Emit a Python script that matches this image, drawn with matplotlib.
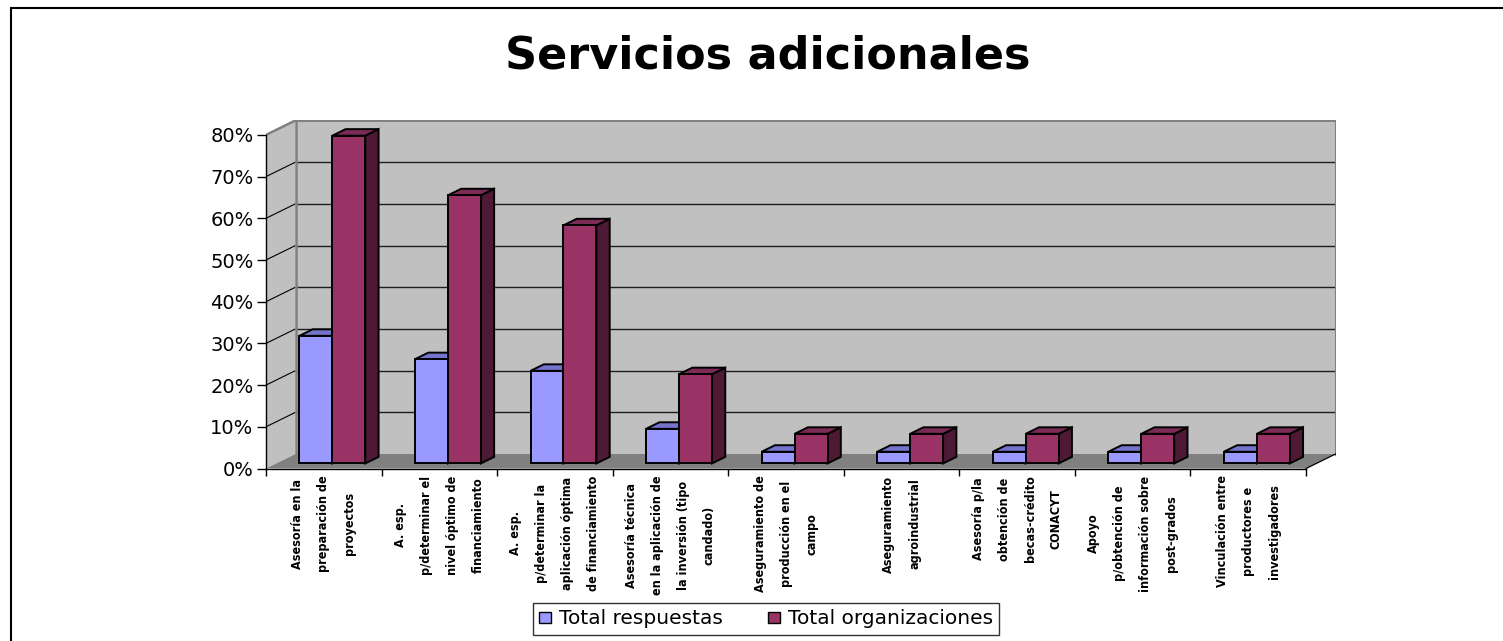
import numpy as np
import matplotlib
matplotlib.use("Agg")
import matplotlib.pyplot as plt
from matplotlib.patches import Polygon, Rectangle, Patch
from matplotlib import font_manager as fm

# ---------------- data ----------------
title = "Servicios adicionales"
categories = [
    "Asesoría en la\npreparación de\nproyectos",
    "A. esp.\np/determinar el\nnivel óptimo de\nfinanciamiento",
    "A. esp.\np/determinar la\naplicación óptima\nde financiamiento",
    "Asesoría técnica\nen la aplicación de\nla inversión (tipo\ncandado)",
    "Aseguramiento de\nproducción en el\ncampo",
    "Aseguramiento\nagroindustrial",
    "Asesoría p/la\nobtención de\nbecas-crédito\nCONACYT",
    "Apoyo\np/obtención de\ninformación sobre\npost-grados",
    "Vinculación entre\nproductores e\ninvestigadores",
]
series_names = ["Total respuestas", "Total organizaciones"]
total_respuestas = [0.306, 0.250, 0.222, 0.083, 0.028, 0.028, 0.028, 0.028, 0.028]
total_organizaciones = [0.786, 0.643, 0.571, 0.214, 0.071, 0.071, 0.071, 0.071, 0.071]
y_ticks = [0.0, 0.1, 0.2, 0.3, 0.4, 0.5, 0.6, 0.7, 0.8]
y_tick_labels = ["0%", "10%", "20%", "30%", "40%", "50%", "60%", "70%", "80%"]

# ---------------- styles ----------------
front_colors = ["#9999FF", "#993366"]
top_colors = ["#7474CC", "#7C2A56"]
side_colors = ["#4C4C80", "#4E1934"]
wall_color = "#C0C0C0"
floor_color = "#808080"

W, H = 1503, 641
fig = plt.figure(figsize=(W / 100, H / 100), dpi=100)

# geometry (pixels)
X0, Y0 = 266.0, 468.5        # front origin
cat_px = 115.56               # pixels per category
val_px = 417.0                # pixels per 1.0 (100%)
Dx = 29.5 / cat_px            # depth offset in data units
Dy = 14.5 / val_px
ncat = len(categories)
ymax_v = y_ticks[-1]
xmax = ncat + Dx
ymax = ymax_v + Dy

ax = fig.add_axes([X0 / W, (H - Y0) / H, xmax * cat_px / W, ymax * val_px / H])
ax.set_xlim(0, xmax)
ax.set_ylim(0, ymax)
ax.patch.set_visible(False)
for s in ["top", "right"]:
    ax.spines[s].set_visible(False)
ax.spines["left"].set_bounds(0, ymax_v)
ax.spines["bottom"].set_bounds(0, ncat)
for s in ["left", "bottom"]:
    ax.spines[s].set_color("black")
    ax.spines[s].set_linewidth(1.0)
    ax.spines[s].set_zorder(6)

# walls & floor
back = Rectangle((Dx, Dy), ncat, ymax_v, facecolor=wall_color, edgecolor="none", zorder=0)
ax.add_patch(back)
side = Polygon([(0, 0), (Dx, Dy), (Dx, ymax_v + Dy), (0, ymax_v)], closed=True,
               facecolor=wall_color, edgecolor="none", zorder=0)
ax.add_patch(side)
floor = Polygon([(0, 0), (ncat, 0), (ncat + Dx, Dy), (Dx, Dy)], closed=True,
                facecolor=floor_color, edgecolor="none", zorder=0.5)
ax.add_patch(floor)

# gridlines on back wall and side wall
for t in y_ticks[1:]:
    ax.plot([Dx, ncat + Dx], [t + Dy, t + Dy], color="#1e1e1e", lw=1.0, zorder=1)
    c = "#808080" if t == y_ticks[-1] else "black"
    lw = 1.8 if t == y_ticks[-1] else 0.8
    ax.plot([0, Dx], [t, t + Dy], color=c, lw=lw, zorder=1, solid_capstyle="butt")
# back wall border edges
ax.plot([Dx, Dx], [Dy, ymax_v + Dy], color="#808080", lw=1.8, zorder=1.2)
ax.plot([ncat + Dx, ncat + Dx], [Dy, ymax_v + Dy], color="#808080", lw=2.2, zorder=1.2)
ax.plot([Dx, ncat + Dx], [ymax_v + Dy, ymax_v + Dy], color="#808080", lw=2.0, zorder=1.2)
# floor right edge
ax.plot([ncat, ncat + Dx], [0, Dy], color="black", lw=0.9, zorder=1.2)

# bars (pseudo 3D)
f1, f2 = 0.35, 0.80
dd = f2 - f1
gap = 0.20
w = 0.285
series = [total_respuestas, total_organizaciones]
xs = np.arange(ncat)
for i in range(ncat):
    for s_idx, vals in enumerate(series):
        v = vals[i]
        x0 = xs[i] + gap + s_idx * w + f1 * Dx
        x1 = x0 + w
        b = f1 * Dy
        top = b + v
        z = 2 + i * 0.1 + s_idx * 0.05
        side_poly = Polygon([(x1, b), (x1, top), (x1 + dd * Dx, top + dd * Dy), (x1 + dd * Dx, b + dd * Dy)],
                            closed=True, facecolor=side_colors[s_idx], edgecolor="black",
                            lw=1.4, joinstyle="miter", zorder=z)
        ax.add_patch(side_poly)
        top_poly = Polygon([(x0, top), (x1, top), (x1 + dd * Dx, top + dd * Dy), (x0 + dd * Dx, top + dd * Dy)],
                           closed=True, facecolor=top_colors[s_idx], edgecolor="black",
                           lw=1.4, joinstyle="miter", zorder=z)
        ax.add_patch(top_poly)
        ax.bar(x0, v, width=w, bottom=b, align="edge", color=front_colors[s_idx],
               edgecolor="black", linewidth=1.4, zorder=z + 0.01)

# y ticks
ax.set_yticks(y_ticks)
ax.set_yticklabels(y_tick_labels)
ax.tick_params(axis="y", length=6.5, width=1, pad=2.5, labelsize=14, colors="black")
for lab in ax.get_yticklabels():
    lab.set_family("DejaVu Sans")

# x ticks: major at boundaries, labels at minor (centres)
ax.set_xticks(np.arange(ncat + 1))
ax.set_xticklabels([""] * (ncat + 1))
ax.tick_params(axis="x", which="major", length=5, width=1, direction="out")


def pick_label_font():
    cands = [
        (dict(family="Liberation Sans Narrow", weight="bold"), 11.0, ("narrow",)),
        (dict(family="DejaVu Sans", weight="bold", stretch="condensed"), 9.0, ("condensed",)),
        (dict(family="Roboto Condensed", weight="bold"), 10.5, ("condensed",)),
        (dict(family="Liberation Sans", weight="bold"), 9.0, ("liberation",)),
    ]
    for props, size, keys in cands:
        fp = fm.FontProperties(**props)
        try:
            path = fm.findfont(fp, fallback_to_default=False)
        except Exception:
            continue
        if any(k in path.lower() for k in keys):
            return props, size
    return dict(family="DejaVu Sans", weight="bold"), 8.0


lprops, lsize = pick_label_font()
size_px = lsize * 100 / 72
ls = (24 - 0.22 * size_px) / (0.74 * size_px)
ax.set_xticks(xs + 0.5, minor=True)
ax.set_xticklabels(categories, minor=True)
ax.tick_params(axis="x", which="minor", length=0, pad=5)
for lab in ax.get_xticklabels(minor=True):
    lab.set_fontproperties(fm.FontProperties(size=lsize, **lprops))
    lab.set_rotation(90)
    lab.set_linespacing(ls)
    lab.set_multialignment("center")
    lab.set_va("top")
    lab.set_ha("center")

# title
fig.text(768 / W, 1 - 56 / H, title, ha="center", va="center", fontsize=32,
         fontweight="bold", family="DejaVu Sans")

# legend
handles = [Patch(facecolor=front_colors[k], edgecolor="black", linewidth=1.0) for k in range(2)]
leg = fig.legend(handles, series_names, loc="center", bbox_to_anchor=(766 / W, 1 - 619 / H),
                 ncol=2, fontsize=14.5, frameon=True, fancybox=False, shadow=False,
                 handlelength=0.6, handleheight=0.5, handletextpad=0.4, columnspacing=2.2,
                 borderpad=0.3, borderaxespad=0)
leg.get_frame().set_edgecolor("black")
leg.get_frame().set_linewidth(1.0)
for t in leg.get_texts():
    t.set_family("DejaVu Sans")

# outer chart border (left and top visible)
border = Rectangle((11 / W, -0.2), 2.0, 1.2 - 8 / H, transform=fig.transFigure,
                   fill=False, edgecolor="black", linewidth=1.5, zorder=10)
fig.patches.append(border)

fig.savefig("out.png", dpi=100, facecolor="white")
